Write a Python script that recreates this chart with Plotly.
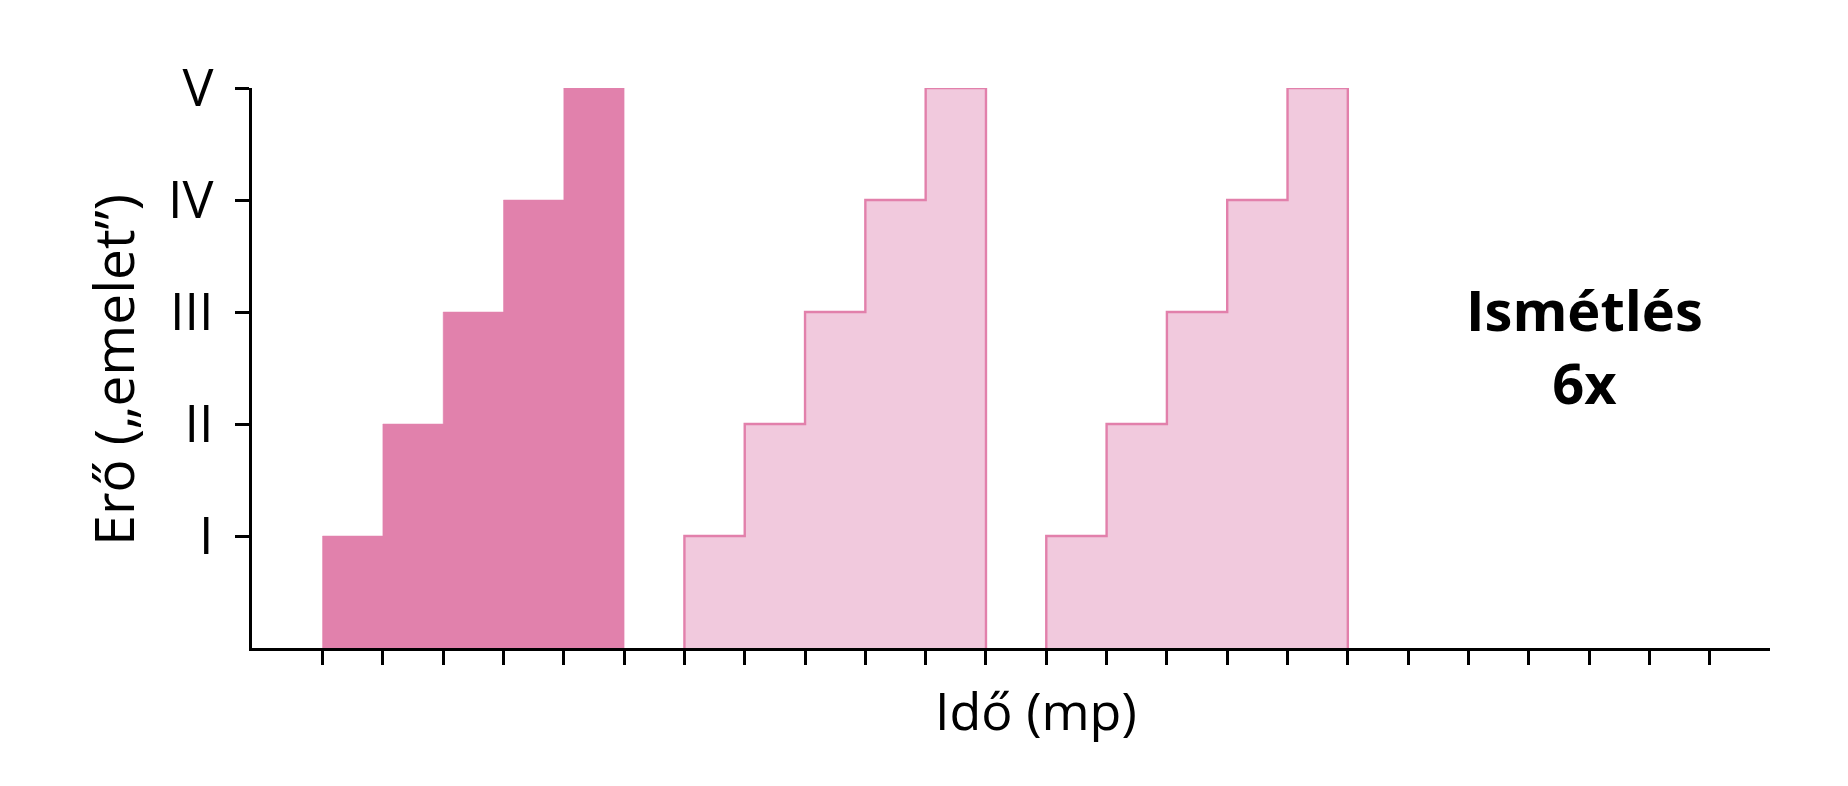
import plotly.graph_objects as go

# Data
levels = [1, 2, 3, 4, 5]             # force level of each step ("emelet")
block_starts = [1, 7, 13]            # start time of each repetition block
block_styles = ["dark", "light", "light"]
x_ticks = list(range(1, 25))
y_ticks = [1, 2, 3, 4, 5]
y_tick_labels = ["I", "II", "III", "IV", "V"]

DARK = "rgb(225,129,172)"
LIGHT_FILL = "rgb(241,201,221)"
LIGHT_LINE = "rgb(226,128,171)"
FONT = "Open Sans"

fig = go.Figure()
for start, style in zip(block_starts, block_styles):
    n = len(levels)
    xs = [start] + [start + i for i in range(n)] + [start + n, start + n]
    ys = [0] + levels + [levels[-1], 0]
    if style == "dark":
        fig.add_trace(go.Scatter(x=xs, y=ys, mode="lines", line=dict(shape="hv", color=DARK, width=0.5),
                                 fill="toself", fillcolor=DARK, cliponaxis=False, hoverinfo="skip"))
    else:
        fig.add_trace(go.Scatter(x=xs, y=ys, mode="lines", line=dict(shape="hv", color=LIGHT_LINE, width=2.4),
                                 fill="toself", fillcolor=LIGHT_FILL, cliponaxis=False, hoverinfo="skip"))

fig.update_layout(
    width=1848, height=786,
    margin=dict(l=244, r=86, t=80, b=146),
    plot_bgcolor="white", paper_bgcolor="white",
    showlegend=False,
    font=dict(family=FONT, color="black", size=52),
    xaxis=dict(range=[-0.17, 25.0], tickmode="array", tickvals=x_ticks, ticktext=[""] * len(x_ticks),
               showgrid=False, zeroline=False, showline=True, linecolor="black", linewidth=3,
               ticks="outside", ticklen=14, tickwidth=2.8, tickcolor="black"),
    yaxis=dict(range=[0, 5], tickmode="array", tickvals=y_ticks, ticktext=y_tick_labels,
               showgrid=False, zeroline=False, showline=True, linecolor="black", linewidth=3,
               ticks="outside", ticklen=14, tickwidth=2.8, tickcolor="black",
               ticklabelstandoff=11, tickfont=dict(size=52, family=FONT)),
    annotations=[
        dict(text="Idő (mp)", xref="paper", yref="paper", x=0.5165, y=-0.109, xanchor="center", yanchor="middle",
             showarrow=False, font=dict(size=52, family=FONT)),
        dict(text="Erő („emelet”)", xref="paper", yref="paper", x=-0.0916, y=0.497, xanchor="center",
             yanchor="middle", textangle=-90, showarrow=False, font=dict(size=55, family=FONT)),
        dict(text="<b>Ismétlés<br>6x</b>", xref="paper", yref="paper", x=0.8775, y=0.541, xanchor="center",
             yanchor="middle", showarrow=False, font=dict(size=56, family=FONT)),
    ],
)

fig.write_html("out.html")
